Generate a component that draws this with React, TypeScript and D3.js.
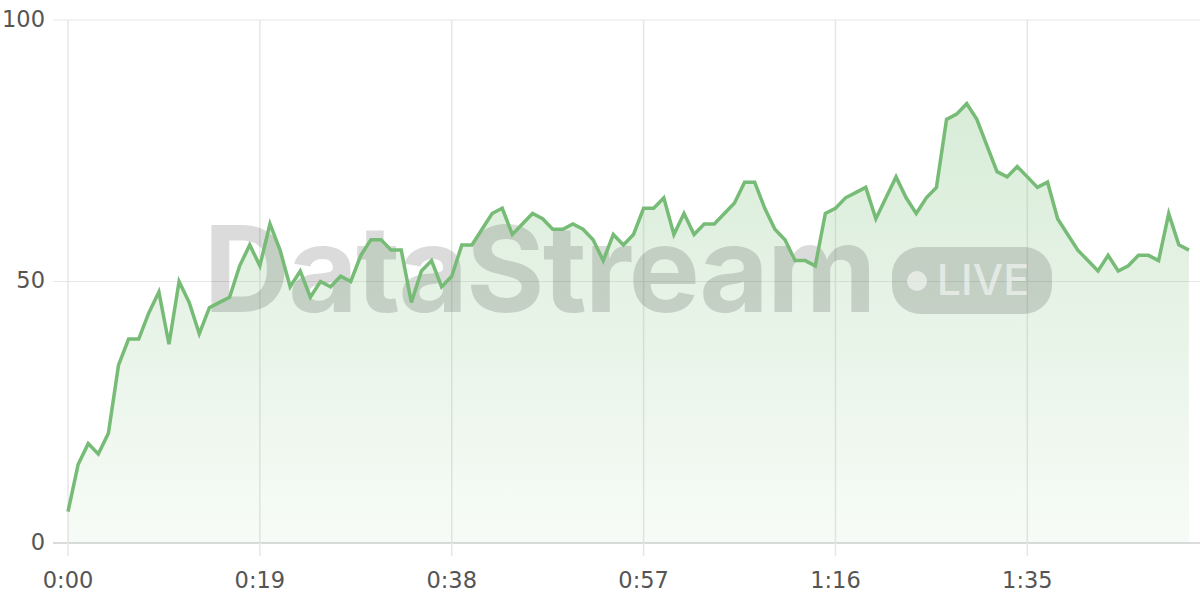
import React from "react";
import * as d3 from "d3";

const seconds: number[] = Array.from({ length: 112 }, (_, i) => i);
const values: number[] = [
  6, 15, 19, 17, 21, 34, 39, 39, 44, 48,
  38, 50, 46, 40, 45, 46, 47, 53, 57, 53,
  61, 56, 49, 52, 47, 50, 49, 51, 50, 55,
  58, 58, 56, 56, 46, 52, 54, 49, 51, 57,
  57, 60, 63, 64, 59, 61, 63, 62, 60, 60,
  61, 60, 58, 54, 59, 57, 59, 64, 64, 66,
  59, 63, 59, 61, 61, 63, 65, 69, 69, 64,
  60, 58, 54, 54, 53, 63, 64, 66, 67, 68,
  62, 66, 70, 66, 63, 66, 68, 81, 82, 84,
  81, 76, 71, 70, 72, 70, 68, 69, 62, 59,
  56, 54, 52, 55, 52, 53, 55, 55, 54, 63,
  57, 56,
];
const xTicks: number[] = [0, 19, 38, 57, 76, 95];
const yTicks: number[] = [0, 50, 100];

const fmt = (s: number) => `${Math.floor(s / 60)}:${String(s % 60).padStart(2, "0")}`;

export default function App() {
  const W = 1200, H = 600;
  const x = d3.scaleLinear().domain([0, 112]).range([68, 1199]);
  const y = d3.scaleLinear().domain([0, 100]).range([543, 20]);
  const data = seconds.map((s, i) => ({ s, v: values[i] }));
  const line = d3.line<{ s: number; v: number }>().x(d => x(d.s)).y(d => y(d.v));
  const area = d3.area<{ s: number; v: number }>().x(d => x(d.s)).y0(y(0)).y1(d => y(d.v));
  const labelFont = "'DejaVu Sans', sans-serif";
  const wmFont = "Inter, 'Noto Sans', sans-serif";
  return (
    <svg width={W} height={H} style={{ position: "absolute", left: 0, top: 0, background: "#fff" }}>
      <defs>
        <linearGradient id="fillg" x1="0" y1="0" x2="0" y2="1">
          <stop offset="0%" stopColor="#7cc07c" stopOpacity={0.3} />
          <stop offset="100%" stopColor="#7cc07c" stopOpacity={0.06} />
        </linearGradient>
      </defs>
      {yTicks.map(t => (
        <g key={"y" + t}>
          <line x1={53} x2={1200} y1={y(t)} y2={y(t)} stroke={t === 0 ? "#cfcfcf" : "#e6e6e6"} strokeWidth={t === 0 ? 1.5 : 1} />
          <text x={45} y={y(t)} textAnchor="end" dominantBaseline="middle" fontFamily={labelFont} fontSize={22.5} fill="#555">{t}</text>
        </g>
      ))}
      {xTicks.map(t => (
        <g key={"x" + t}>
          <line x1={x(t)} x2={x(t)} y1={20} y2={556} stroke="#e6e6e6" strokeWidth={1.5} />
          <text x={x(t)} y={588} textAnchor="middle" fontFamily={labelFont} fontSize={22.5} fill="#555">{fmt(t)}</text>
        </g>
      ))}
      <path d={area(data) || ""} fill="url(#fillg)" />
      <g>
        <text x={539} y={312} textAnchor="middle" fontFamily={wmFont} fontWeight={700} fontSize={120} letterSpacing={-2} fill="#000" fillOpacity={0.14}>DataStream</text>
        <rect x={892} y={247} width={160} height={67} rx={28} fill="#000" fillOpacity={0.14} />
        <circle cx={917} cy={281} r={10} fill="#fff" fillOpacity={0.55} />
        <text x={983} y={295} textAnchor="middle" fontFamily={wmFont} fontWeight={500} fontSize={43} fill="#fff" fillOpacity={0.55}>LIVE</text>
      </g>
      <path d={line(data) || ""} fill="none" stroke="#76bb76" strokeWidth={3.5} strokeLinejoin="miter" />
    </svg>
  );
}
